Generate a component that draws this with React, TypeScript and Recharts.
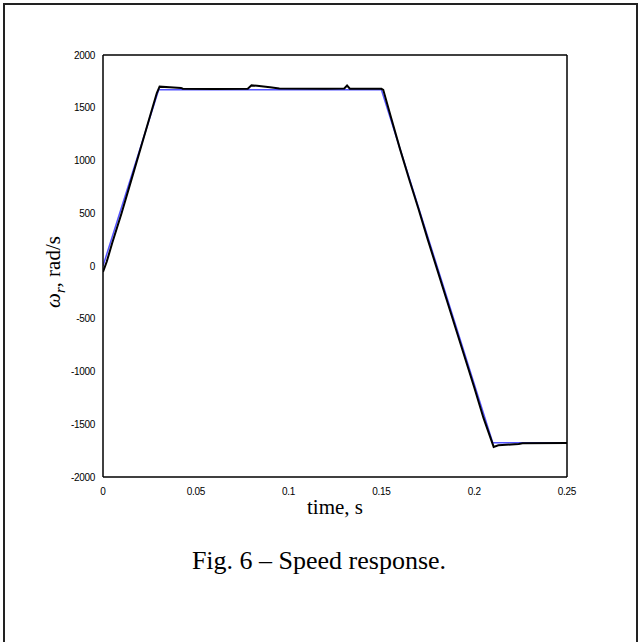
import { LineChart, Line, XAxis, YAxis } from "recharts";

// axis ticks
const timeTicks = [0, 0.05, 0.1, 0.15, 0.2, 0.25];
const speedTicks = [-2000, -1500, -1000, -500, 0, 500, 1000, 1500, 2000];

// reference speed (blue)
const refTime = [0, 0.03, 0.15, 0.21, 0.25];
const refSpeed = [0, 1670, 1670, -1675, -1675];

// measured speed (black)
const measTime = [
  0, 0.002, 0.005, 0.01, 0.015, 0.02, 0.025, 0.029, 0.0305, 0.036, 0.042,
  0.043, 0.06, 0.078, 0.08, 0.083, 0.09, 0.095, 0.12, 0.13, 0.1315, 0.133,
  0.15, 0.151, 0.155, 0.16, 0.165, 0.17, 0.175, 0.18, 0.185, 0.19, 0.195, 0.2,
  0.205, 0.2105, 0.213, 0.22, 0.224, 0.226, 0.25,
];
const measSpeed = [
  -55, 40, 220, 500, 800, 1100, 1400, 1640, 1700, 1695, 1688, 1680, 1678,
  1680, 1712, 1708, 1695, 1682, 1680, 1682, 1710, 1680, 1680, 1670, 1420, 1110,
  820, 540, 250, -30, -310, -590, -870, -1150, -1440, -1715, -1700, -1692,
  -1688, -1680, -1678,
];

const refData = refTime.map((t, i) => ({ t, w: refSpeed[i] }));
const measData = measTime.map((t, i) => ({ t, w: measSpeed[i] }));

const tickFont = {
  fontSize: 10,
  fill: "#000",
  fontFamily: "'Liberation Sans', Arial, sans-serif",
  letterSpacing: -0.3,
};

const serif = "'Liberation Serif', 'Times New Roman', serif";

export default function App() {
  return (
    <div
      style={{
        position: "absolute",
        left: 0,
        top: 0,
        width: 639,
        height: 642,
        background: "#fff",
        overflow: "hidden",
      }}
    >
      <div
        style={{
          position: "absolute",
          left: 3,
          top: 3,
          width: 631,
          height: 660,
          border: "2px solid #222",
        }}
      />
      <div style={{ position: "absolute", left: 0, top: 0 }}>
        <LineChart
          width={639}
          height={642}
          margin={{ top: 55, right: 72, bottom: 135, left: 43 }}
        >
          <XAxis
            xAxisId="b"
            dataKey="t"
            type="number"
            domain={[0, 0.25]}
            ticks={timeTicks}
            allowDataOverflow
            height={30}
            tickLine={false}
            tickMargin={5}
            axisLine={{ stroke: "#000", strokeWidth: 1.5 }}
            tick={tickFont}
          />
          <XAxis
            xAxisId="bm"
            type="number"
            orientation="bottom"
            mirror
            domain={[0, 0.25]}
            ticks={timeTicks}
            allowDataOverflow
            tickSize={5}
            tick={false}
            axisLine={false}
            tickLine={{ stroke: "#000" }}
          />
          <XAxis
            xAxisId="tm"
            type="number"
            orientation="top"
            mirror
            domain={[0, 0.25]}
            ticks={timeTicks}
            allowDataOverflow
            tickSize={5}
            tick={false}
            axisLine={{ stroke: "#000", strokeWidth: 1.5 }}
            tickLine={{ stroke: "#000" }}
          />
          <YAxis
            yAxisId="l"
            type="number"
            domain={[-2000, 2000]}
            ticks={speedTicks}
            allowDataOverflow
            width={60}
            tickLine={false}
            tickMargin={2}
            axisLine={{ stroke: "#000", strokeWidth: 1.5 }}
            tick={tickFont}
          />
          <YAxis
            yAxisId="lm"
            type="number"
            orientation="left"
            mirror
            domain={[-2000, 2000]}
            ticks={speedTicks}
            allowDataOverflow
            tickSize={5}
            tick={false}
            axisLine={false}
            tickLine={{ stroke: "#000" }}
          />
          <YAxis
            yAxisId="rm"
            type="number"
            orientation="right"
            mirror
            domain={[-2000, 2000]}
            ticks={speedTicks}
            allowDataOverflow
            tickSize={5}
            tick={false}
            axisLine={{ stroke: "#000", strokeWidth: 1.5 }}
            tickLine={{ stroke: "#000" }}
          />
          <Line
            xAxisId="b"
            yAxisId="l"
            data={refData}
            dataKey="w"
            type="linear"
            stroke="#5252ff"
            strokeWidth={1.5}
            dot={false}
            isAnimationActive={false}
          />
          <Line
            xAxisId="b"
            yAxisId="l"
            data={measData}
            dataKey="w"
            type="linear"
            stroke="#000"
            strokeWidth={2}
            dot={false}
            isAnimationActive={false}
          />
        </LineChart>
      </div>
      <div
        style={{
          position: "absolute",
          left: 53,
          top: 272,
          transform: "translate(-50%, -50%) rotate(-90deg)",
          fontFamily: serif,
          fontSize: 21,
          lineHeight: 1,
          whiteSpace: "nowrap",
        }}
      >
        <i>
          ω<sub style={{ fontSize: "0.7em", lineHeight: 0 }}>r</sub>
        </i>
        , rad/s
      </div>
      <div
        style={{
          position: "absolute",
          left: 335,
          top: 507,
          transform: "translate(-50%, -50%)",
          fontFamily: serif,
          fontSize: 21,
          lineHeight: 1,
          whiteSpace: "nowrap",
        }}
      >
        time, s
      </div>
      <div
        style={{
          position: "absolute",
          left: 319,
          top: 561,
          transform: "translate(-50%, -50%)",
          fontFamily: serif,
          fontSize: 26,
          lineHeight: 1,
          whiteSpace: "nowrap",
        }}
      >
        Fig. 6 – Speed response.
      </div>
    </div>
  );
}
